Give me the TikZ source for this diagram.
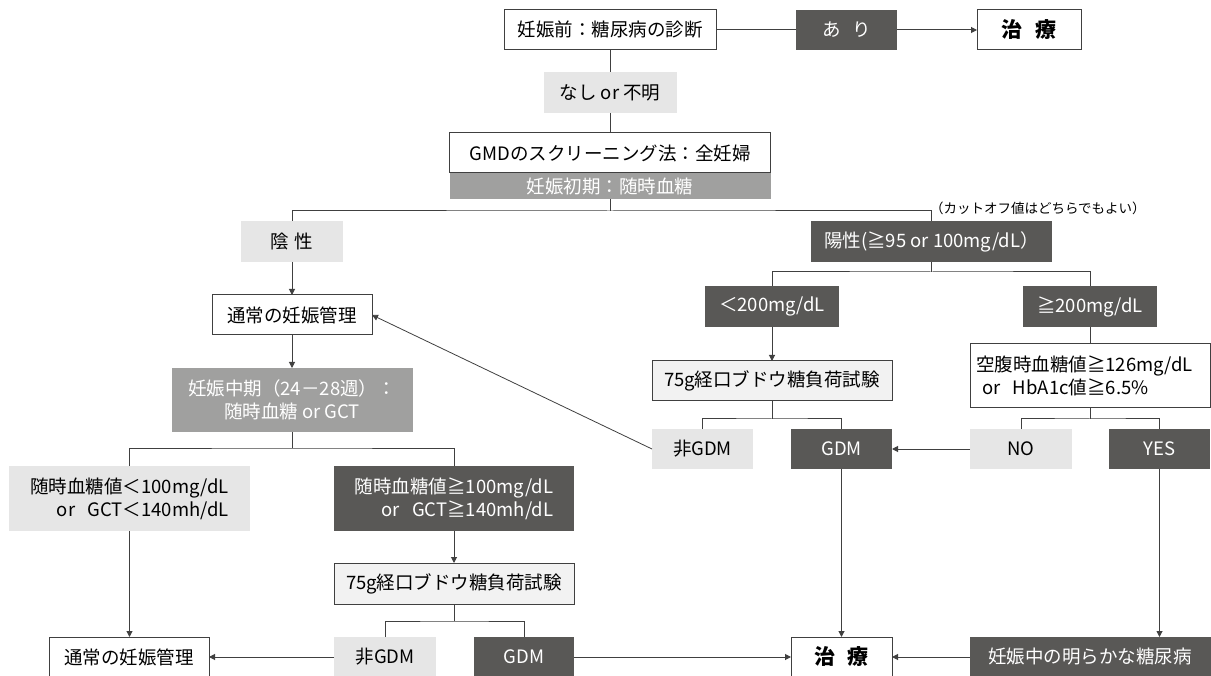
\documentclass[tikz,border=0pt]{standalone}
\usepackage{fontspec}
\setmainfont{Noto Sans CJK JP}
\usetikzlibrary{arrows.meta}
\definecolor{dk}{HTML}{595856}
\definecolor{md}{HTML}{A0A09F}
\definecolor{lt}{HTML}{E6E6E6}
\definecolor{pl}{HTML}{F2F2F2}
\definecolor{lnc}{HTML}{404040}
\begin{document}
\begin{tikzpicture}[x=1pt,y=-1pt,
  font=\fontsize{18.5}{23}\selectfont,
  every node/.style={inner sep=0pt, outer sep=0pt},
  wbox/.style={draw=lnc, line width=1pt, fill=white, text=black, align=center},
  pbox/.style={draw=lnc, line width=1pt, fill=pl, text=black, align=center},
  dkbox/.style={fill=dk, text=white, align=center},
  mdbox/.style={fill=md, text=white, align=center},
  ltbox/.style={fill=lt, text=black, align=center},
  conn/.style={draw=lnc, line width=1pt},
  arr/.style={draw=lnc, line width=1pt, -{Triangle[length=6pt,width=6pt]}},
  bigb/.style={font=\fontsize{21}{25}\selectfont\bfseries}
]
\useasboundingbox (0,0) rectangle (1211,676);
\fill[white] (0,0) rectangle (1211,676);

% top row
\node[wbox, minimum width=212pt, minimum height=40pt] (pre) at (610,30) {妊娠前：糖尿病の診断};
\node[dkbox, minimum width=101pt, minimum height=40pt] (ari) at (846.5,30) {あ\hspace{0.6em}り};
\node[wbox, bigb, minimum width=104pt, minimum height=40pt] (chiryo1) at (1029,30) {治\hspace{0.6em}療};

\node[ltbox, minimum width=133pt, minimum height=41pt] (nashi) at (610,92.5) {なし or 不明};
\node[wbox, minimum width=321pt, minimum height=40pt] (gmd) at (610,153) {GMDのスクリーニング法：全妊婦};
\node[mdbox, minimum width=321pt, minimum height=26pt] (band) at (610,186) {妊娠初期：随時血糖};

% second level
\node[ltbox, minimum width=102pt, minimum height=41pt] (insei) at (292,241.5) {陰\hspace{0.3em}性};
\node[dkbox, minimum width=241pt, minimum height=41pt] (yousei) at (931.5,241.5) {陽性(≧95 or 100mg/dL）};
\node[anchor=west, font=\fontsize{13.5}{16}\selectfont] (note) at (930,208) {（カットオフ値はどちらでもよい）};

\node[dkbox, minimum width=134pt, minimum height=41pt] (lt200) at (772,306.5) {＜200mg/dL};
\node[dkbox, minimum width=134pt, minimum height=41pt] (ge200) at (1090,306.5) {≧200mg/dL};

\node[pbox, minimum width=240pt, minimum height=40pt] (ogtt1) at (772,381) {75g経口ブドウ糖負荷試験};
\node[wbox, minimum width=240pt, minimum height=64pt, align=left, text width=228pt] (kuufuku) at (1090,376) {空腹時血糖値≧126mg/dL\\\ or\ \ HbA1c値≧6.5\%};

\node[ltbox, minimum width=101pt, minimum height=40pt] (hi1) at (702.5,449) {非GDM};
\node[dkbox, minimum width=101pt, minimum height=40pt] (gdm1) at (841.5,449) {GDM};
\node[ltbox, minimum width=102pt, minimum height=40pt] (no) at (1021,449) {NO};
\node[dkbox, minimum width=101pt, minimum height=40pt] (yes) at (1159.5,449) {YES};

% left branch
\node[wbox, minimum width=160pt, minimum height=40pt] (tsujo1) at (292,315) {通常の妊娠管理};
\node[mdbox, minimum width=241pt, minimum height=64pt] (chuki) at (292,400) {妊娠中期（24－28週）：\\随時血糖 or GCT};

\node[ltbox, minimum width=241pt, minimum height=65pt, align=right] (low) at (129.5,498.5) {随時血糖値＜100mg/dL\\or\ \ \ GCT＜140mh/dL};
\node[dkbox, minimum width=240pt, minimum height=65pt, align=right] (high) at (454,498.5) {随時血糖値≧100mg/dL\\or\ \ \ GCT≧140mh/dL};

\node[pbox, minimum width=240pt, minimum height=41pt] (ogtt2) at (454,583.5) {75g経口ブドウ糖負荷試験};

% bottom row
\node[wbox, minimum width=160pt, minimum height=40pt] (tsujo2) at (129,657) {通常の妊娠管理};
\node[ltbox, minimum width=102pt, minimum height=40pt] (hi2) at (385,657) {非GDM};
\node[dkbox, minimum width=100pt, minimum height=40pt] (gdm2) at (524,657) {GDM};
\node[wbox, bigb, minimum width=101pt, minimum height=40pt] (chiryo2) at (841.5,657) {治\hspace{0.6em}療};
\node[dkbox, minimum width=241pt, minimum height=40pt] (overt) at (1090,657) {妊娠中の明らかな糖尿病};

% junction points
\coordinate (j1) at (610,211);
\coordinate (j2) at (931.5,272);
\coordinate (j3) at (772,419);
\coordinate (j4) at (1090,419);
\coordinate (j5) at (292,448);
\coordinate (j6) at (454,621);

% connectors
\draw[conn] (pre.east) -- (ari.west);
\draw[arr] (ari.east) -- (chiryo1.west);
\draw[conn] (pre.south) -- (nashi.north);
\draw[conn] (nashi.south) -- (gmd.north);
\draw[conn] (band.south) -- (j1);
\draw[conn] (insei.north) |- (j1) -| (yousei.north);
\draw[conn] (yousei.south) -- (j2);
\draw[conn] (lt200.north) |- (j2) -| (ge200.north);
\draw[arr] (lt200.south) -- (ogtt1.north);
\draw[conn] (ge200.south) -- (kuufuku.north);
\draw[conn] (ogtt1.south) -- (j3);
\draw[conn] (hi1.north) |- (j3) -| (gdm1.north);
\draw[conn] (kuufuku.south) -- (j4);
\draw[conn] (no.north) |- (j4) -| (yes.north);
\draw[arr] (no.west) -- (gdm1.east);
\draw[arr, line width=0.8pt] (hi1.west) -- (tsujo1.east);
\draw[arr] (insei.south) -- (tsujo1.north);
\draw[arr] (tsujo1.south) -- (chuki.north);
\draw[conn] (chuki.south) -- (j5);
\draw[conn] (low.north) |- (j5) -| (high.north);
\draw[arr] (low.south) -- (low.south |- tsujo2.north);
\draw[arr] (high.south) -- (ogtt2.north);
\draw[conn] (ogtt2.south) -- (j6);
\draw[conn] (hi2.north) |- (j6) -| (gdm2.north);
\draw[arr] (hi2.west) -- (tsujo2.east);
\draw[arr] (gdm2.east) -- (chiryo2.west);
\draw[arr] (gdm1.south) -- (chiryo2.north);
\draw[arr] (yes.south) -- (yes.south |- overt.north);
\draw[arr] (overt.west) -- (chiryo2.east);
\end{tikzpicture}
\end{document}
